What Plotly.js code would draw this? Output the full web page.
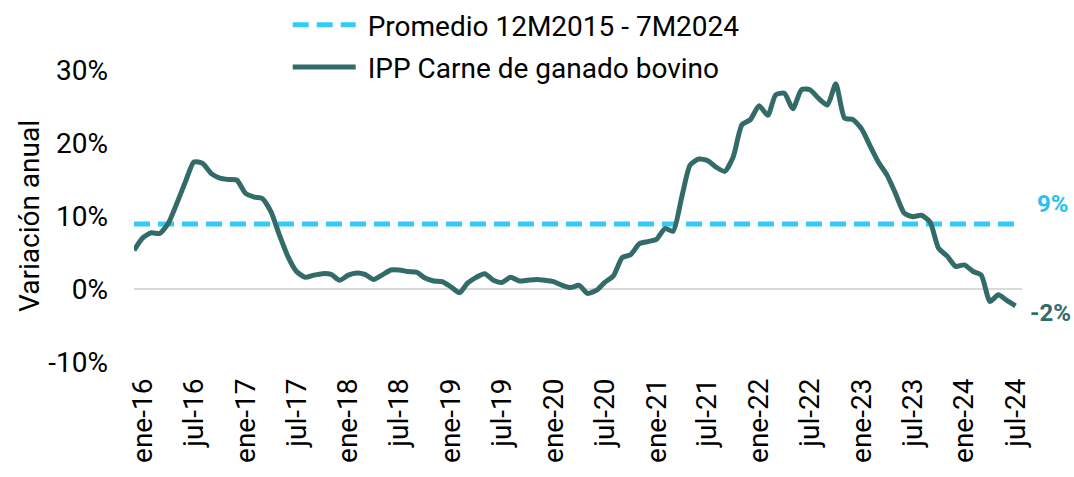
<!DOCTYPE html>
<html>
<head>
<meta charset="utf-8">
<script src="https://cdn.plot.ly/plotly-3.0.1.min.js"></script>
<style>html,body{margin:0;padding:0;background:#fff;}#chart{width:1074px;height:477px;}</style>
</head>
<body>
<div id="chart"></div>
<script>
// Monthly series from Dec 2015 to Jul 2024 (annual % change)
const startYear = 2015, startMonth = 12;
const ippCarne = [
  5.3,
  7.0, 7.7, 7.6, 9.0, 11.7, 14.7, 17.4, 17.2, 15.8, 15.2, 15.0, 14.9,
  13.1, 12.6, 12.4, 10.6, 7.4, 4.4, 2.4, 1.6, 1.9, 2.1, 2.0, 1.2,
  1.9, 2.2, 2.0, 1.3, 1.9, 2.6, 2.6, 2.4, 2.3, 1.5, 1.1, 1.0,
  0.3, -0.5, 0.8, 1.6, 2.1, 1.2, 0.9, 1.6, 1.1, 1.2, 1.3, 1.2,
  1.0, 0.5, 0.2, 0.5, -0.6, -0.2, 0.9, 1.8, 4.3, 4.7, 6.2, 6.5,
  6.8, 8.3, 7.9, 12.6, 17.0, 17.8, 17.6, 16.7, 16.1, 18.1, 22.5, 23.2,
  25.1, 23.8, 26.6, 26.8, 24.7, 27.3, 27.3, 26.1, 25.2, 28.1, 23.4, 23.2,
  21.9, 19.5, 17.4, 15.6, 13.1, 10.4, 9.9, 10.1, 9.2, 5.6, 4.5, 3.1,
  3.3, 2.4, 1.9, -1.7, -0.8, -1.6, -2.3
];
const promedioValue = 8.9;
const tickDates = ["2016-01-01","2016-07-01","2017-01-01","2017-07-01","2018-01-01","2018-07-01",
  "2019-01-01","2019-07-01","2020-01-01","2020-07-01","2021-01-01","2021-07-01",
  "2022-01-01","2022-07-01","2023-01-01","2023-07-01","2024-01-01","2024-07-01"];
const tickLabels = ["ene-16","jul-16","ene-17","jul-17","ene-18","jul-18","ene-19","jul-19",
  "ene-20","jul-20","ene-21","jul-21","ene-22","jul-22","ene-23","jul-23","ene-24","jul-24"];
const yTicks = [-10, 0, 10, 20, 30];
const yTickLabels = ["-10%","0%","10%","20%","30%"];

const dates = [];
for (let i = 0; i < ippCarne.length; i++) {
  const t = (startMonth - 1) + i;
  const y = startYear + Math.floor(t / 12);
  const m = (t % 12) + 1;
  dates.push(y + "-" + String(m).padStart(2, "0") + "-01");
}
const promedio = dates.map(() => promedioValue);

const teal = "#336B69";
const cyan = "#33CCFA";

const traces = [
  {x: dates, y: promedio, type: "scatter", mode: "lines", name: "&nbsp;Promedio 12M2015 - 7M2024",
   legendgroup: "a", line: {color: cyan, width: 5, dash: "16px,8px"}, hoverinfo: "skip"},
  {x: dates, y: ippCarne, type: "scatter", mode: "lines", name: "&nbsp;IPP Carne de ganado bovino",
   legendgroup: "b", line: {color: teal, width: 5, shape: "spline", smoothing: 0.6}}
];

const layout = {
  width: 1074, height: 477,
  margin: {l: 134, r: 52, t: 70, b: 115, autoexpand: false},
  paper_bgcolor: "#fff", plot_bgcolor: "#fff",
  font: {family: "Roboto, sans-serif", size: 28, color: "#000"},
  showlegend: true,
  legend: {x: 0.1731, xanchor: "left", xref: "paper", y: 1.004, yanchor: "top", yref: "container",
           orientation: "v", traceorder: "grouped", tracegroupgap: 3,
           font: {size: 28, color: "#000"}, bgcolor: "rgba(0,0,0,0)", itemwidth: 63},
  xaxis: {type: "date", range: ["2015-12-01", "2024-07-24"], tickvals: tickDates, ticktext: tickLabels,
          tickangle: -90, showgrid: false, zeroline: false, showline: false, ticks: "",
          ticklabelstandoff: 10, tickfont: {size: 28}, fixedrange: true},
  yaxis: {range: [-10, 30], tickvals: yTicks, ticktext: yTickLabels, showgrid: false,
          zeroline: true, zerolinecolor: "#D9D9D9", zerolinewidth: 1.5, showline: false, ticks: "",
          ticklabelstandoff: 25, tickfont: {size: 28},
          title: {text: "Variación anual", font: {size: 28}, standoff: 0}, fixedrange: true},
  annotations: [
    {xref: "paper", yref: "y", x: 1.0345, y: 11.6, xanchor: "center", yanchor: "middle",
     text: "<b>9%</b>", showarrow: false, font: {size: 24, color: "#29C1F2"}},
    {xref: "paper", yref: "y", x: 1.032, y: -3.3, xanchor: "center", yanchor: "middle",
     text: "<b>-2%</b>", showarrow: false, font: {size: 24, color: teal}}
  ]
};

Plotly.newPlot("chart", traces, layout, {displayModeBar: false, staticPlot: true});
</script>
</body>
</html>
